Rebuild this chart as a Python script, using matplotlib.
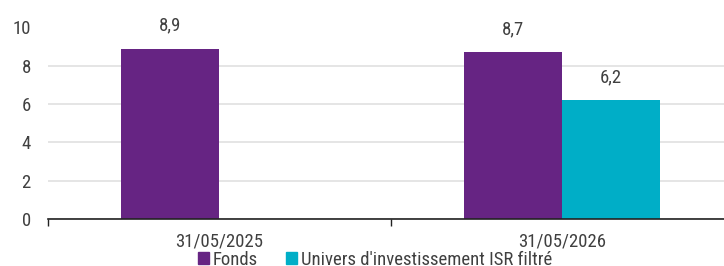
import numpy as np
import matplotlib
matplotlib.use("Agg")
import matplotlib.pyplot as plt
from matplotlib.patches import Patch

plt.rcParams['font.family'] = ['Roboto Condensed', 'Liberation Sans Narrow', 'Roboto', 'DejaVu Sans']

categories = ["31/05/2025", "31/05/2026"]
series_names = ["Fonds", "Univers d'investissement ISR filtré"]
fonds = [8.9, 8.7]
univers = [np.nan, 6.2]
yticks = [0, 2, 4, 6, 8, 10]

colors = ["#662483", "#00AEC7"]
text_color = "#404040"

W, H = 724, 266
fig = plt.figure(figsize=(W / 100, H / 100), dpi=100)
left, right, bottom, top = 47.5, 724, 219, 27.5
ax = fig.add_axes([left / W, 1 - bottom / H, (right - left) / W, (bottom - top) / H])

span = 343.0
w = 98 / span
x = np.arange(len(categories))
for vals, off, c in [(fonds, -w / 2, colors[0]), (univers, w / 2, colors[1])]:
    ax.bar(x + off, vals, width=w, color=c, zorder=3)
    for xi, v in zip(x + off, vals):
        if not np.isnan(v):
            ax.annotate(f"{v:.1f}".replace(".", ","), (xi, v), xytext=(0, 14),
                        textcoords="offset pixels", ha="center", va="bottom",
                        fontsize=13.5, color=text_color)

ax.set_yticks(yticks)
ax.set_yticklabels([str(t) for t in yticks], fontsize=13.5, color=text_color)
ax.tick_params(axis='y', length=0, pad=12)
ax.set_xticks(x)
ax.set_xticklabels(categories, fontsize=13.5, color=text_color)
ax.tick_params(axis='x', length=0, pad=9.5)
ax.set_xticks([-0.5, 0.5, 1.5], minor=True)
ax.tick_params(axis='x', which='minor', length=5, width=1, color="#222222", direction='out')
ax.set_xlim(-0.5, -0.5 + (right - left) / span)
ax.set_ylim(0, 10)
ax.grid(axis='y', color="#e3e3e3", linewidth=1.3, zorder=0)
for s in ["top", "right", "left"]:
    ax.spines[s].set_visible(False)
ax.spines["bottom"].set_color("#222222")
ax.spines["bottom"].set_linewidth(1.2)
ax.spines["bottom"].set_zorder(4)

handles = [Patch(color=c) for c in colors]
fig.legend(handles, series_names, loc="center", bbox_to_anchor=(375 / W, 1 - 260 / H),
           ncol=2, frameon=False, fontsize=13.5, handlelength=0.6, handleheight=0.6,
           handletextpad=0.2, columnspacing=1.5, labelcolor=text_color,
           borderpad=0, borderaxespad=0)

fig.savefig("out.png", dpi=100)
